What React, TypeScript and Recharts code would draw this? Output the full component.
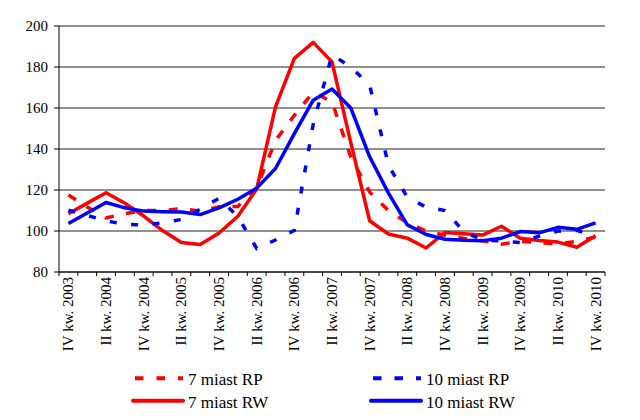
import React from 'react';
import { LineChart, Line, XAxis, YAxis, CartesianGrid, Legend } from 'recharts';

const quarters = [
  'IV kw. 2003', 'I kw. 2004', 'II kw. 2004', 'III kw. 2004', 'IV kw. 2004',
  'I kw. 2005', 'II kw. 2005', 'III kw. 2005', 'IV kw. 2005',
  'I kw. 2006', 'II kw. 2006', 'III kw. 2006', 'IV kw. 2006',
  'I kw. 2007', 'II kw. 2007', 'III kw. 2007', 'IV kw. 2007',
  'I kw. 2008', 'II kw. 2008', 'III kw. 2008', 'IV kw. 2008',
  'I kw. 2009', 'II kw. 2009', 'III kw. 2009', 'IV kw. 2009',
  'I kw. 2010', 'II kw. 2010', 'III kw. 2010', 'IV kw. 2010',
];

const rp7 = [117.6, 111.7, 106.4, 108.5, 110, 110, 110.9, 109.7, 111.8, 112, 121, 144.2, 156.4, 167.7, 163, 136, 119, 110, 104, 100, 98, 96.3, 95.2, 93.6, 95, 94.3, 93.7, 95, 97];
const rw7 = [108.4, 113.6, 118.7, 113.5, 107.3, 100.2, 94.4, 93.4, 99, 107.2, 120.5, 160.5, 184.2, 192, 182.5, 143, 105, 98.5, 96.5, 91.7, 99.3, 98.7, 98, 102.3, 96.5, 95.4, 94.6, 92.1, 97.7];
const rp10 = [110.2, 107.6, 104.9, 103.3, 103, 104, 105.6, 110.6, 116, 107, 91.5, 95.6, 100.3, 152, 186, 180, 171.2, 132, 116.5, 111.6, 110, 99.7, 95.6, 95.1, 94.4, 97.5, 100, 100.3, 97.5];
const rw10 = [103.7, 108.8, 113.9, 111.3, 109.7, 109.4, 109.3, 108, 111.3, 115.5, 120.9, 130.5, 147.5, 163.8, 169.3, 160, 136.2, 118.5, 103, 98.3, 96, 95.5, 95.3, 96.5, 99.7, 99.1, 101.8, 100.8, 104];

const yTicks = [80, 100, 120, 140, 160, 180, 200];

// legend grid placement: [column, row]
const legendSlots: Record<string, [number, number]> = {
  rp7: [0, 0],
  rw7: [0, 1],
  rp10: [1, 0],
  rw10: [1, 1],
};

const data = quarters.map((q, i) => ({
  x: i + 0.5,
  label: q,
  rp7: rp7[i],
  rw7: rw7[i],
  rp10: rp10[i],
  rw10: rw10[i],
}));

const xTicks: number[] = [];
for (let k = 0; k <= quarters.length * 2; k++) xTicks.push(k / 2);

const FONT = "'Liberation Serif', 'Times New Roman', serif";
const TICK = 4;

const XTick = (props: any) => {
  const { x, y, payload } = props;
  const v = payload.value as number;
  if (Number.isInteger(v)) {
    return <line x1={x} x2={x} y1={y - TICK} y2={y} stroke="#000" strokeWidth={1} />;
  }
  const idx = Math.round(v - 0.5);
  if (idx % 2 !== 0) return <g />;
  return (
    <text
      x={x}
      y={y + 1}
      transform={`rotate(-90 ${x} ${y + 1})`}
      textAnchor="end"
      dy="0.33em"
      style={{ fontSize: 15, fontFamily: FONT }}
      fill="#000"
    >
      {quarters[idx]}
    </text>
  );
};

const YTick = (props: any) => {
  const { x, y, payload } = props;
  return (
    <text x={x} y={y} dy="0.35em" textAnchor="end" fill="#000" style={{ fontSize: 15, fontFamily: FONT }}>
      {payload.value}
    </text>
  );
};

const LegendContent = (props: any) => {
  const items = props.payload || [];
  const cols = [135, 373];
  const rows = [18.3, 40.7];
  return (
    <svg width={640} height={60} style={{ display: 'block' }}>
      {items.map((it: any, i: number) => {
        const slot = legendSlots[it.dataKey] || [0, 0];
        const x0 = cols[slot[0]];
        const yc = rows[slot[1]];
        const dash = it.payload && it.payload.strokeDasharray;
        return (
          <g key={i}>
            <line
              x1={dash ? x0 : x0 - 2}
              x2={x0 + 48}
              y1={yc}
              y2={yc}
              stroke={it.color}
              strokeWidth={4}
              strokeDasharray={dash ? '8.5 13' : undefined}
              strokeLinecap={dash ? 'butt' : 'round'}
            />
            <text x={x0 + 53} y={yc + 6.8} fill="#000" style={{ fontSize: 17, fontFamily: FONT }}>
              {it.value}
            </text>
          </g>
        );
      })}
    </svg>
  );
};

export default function App() {
  return (
    <div style={{ position: 'absolute', left: 0, top: 0, width: 640, height: 420, background: '#fff', fontFamily: FONT }}>
      <LineChart width={640} height={420} data={data} margin={{ top: 26, right: 35, bottom: 0, left: 0 }}>
        <CartesianGrid vertical={false} stroke="#222" strokeWidth={1} />
        <XAxis
          dataKey="x"
          type="number"
          domain={[0, quarters.length]}
          ticks={xTicks}
          interval={0}
          tick={<XTick />}
          tickLine={false}
          tickSize={TICK}
          tickMargin={0}
          height={148}
          axisLine={{ stroke: '#000' }}
        />
        <YAxis
          domain={[80, 200]}
          ticks={yTicks}
          interval={0}
          width={59}
          tickSize={5}
          tickMargin={6}
          tickLine={{ stroke: '#000' }}
          axisLine={{ stroke: '#000' }}
          tick={<YTick />}
        />
        <Legend
          layout="horizontal"
          verticalAlign="middle"
          align="center"
          content={<LegendContent />}
          wrapperStyle={{ position: 'absolute', top: 360, left: 0, width: 640, height: 60 }}
        />
        <Line dataKey="rp7" name="7 miast RP" stroke="#FF0000" strokeWidth={3.5} strokeDasharray="9 12.5" dot={false} activeDot={false} type="linear" isAnimationActive={false} />
        <Line dataKey="rw7" name="7 miast RW" stroke="#FF0000" strokeWidth={3.5} dot={false} activeDot={false} type="linear" strokeLinejoin="round" isAnimationActive={false} />
        <Line dataKey="rp10" name="10 miast RP" stroke="#0000FF" strokeWidth={3.5} strokeDasharray="7 14.5" dot={false} activeDot={false} type="linear" isAnimationActive={false} />
        <Line dataKey="rw10" name="10 miast RW" stroke="#0000FF" strokeWidth={3.5} dot={false} activeDot={false} type="linear" strokeLinejoin="round" isAnimationActive={false} />
      </LineChart>
    </div>
  );
}
